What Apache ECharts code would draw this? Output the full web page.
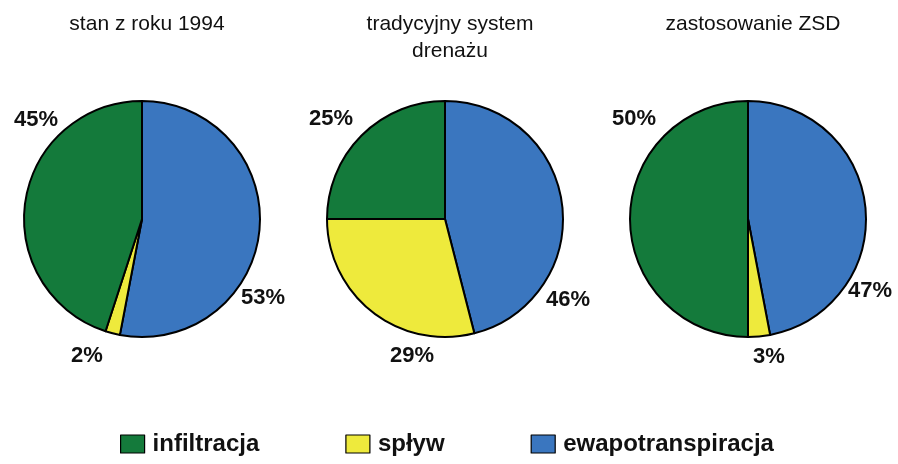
<!DOCTYPE html>
<html>
<head>
<meta charset="utf-8">
<script src="https://cdn.jsdelivr.net/npm/echarts@6/dist/echarts.min.js"></script>
<style>
* { margin: 0; padding: 0; }
#chart-container { width: 898px; height: 464px; background: #fff; }
</style>
</head>
<body>
<div id="chart-container"></div>
<script>
// kategorie (kolejność rysowania zgodnie z ruchem wskazówek zegara od góry)
const categories = ['ewapotranspiracja', 'spływ', 'infiltracja'];
const legendOrder = ['infiltracja', 'spływ', 'ewapotranspiracja'];
const pieTitles = ['stan z roku 1994', 'tradycyjny system\ndrenażu', 'zastosowanie ZSD'];
// wartości w % (ewapotranspiracja, spływ, infiltracja)
const stan1994 = [53, 2, 45];
const tradycyjny = [46, 29, 25];
const zsd = [47, 3, 50];

const colors = {
    'ewapotranspiracja': '#3a76bf',
    'spływ': '#eeea3c',
    'infiltracja': '#147a3b'
};

// układ
const centers = [[142, 219], [445, 219], [748, 219]];
const radius = 118;
// położenie etykiet (x, y) dla każdej kategorii
const labelPos = [
    [[263, 298], [87, 356], [36, 120]],
    [[568, 300], [412, 356], [331, 119]],
    [[870, 291], [769, 357], [634, 119]]
];

const dom = document.getElementById('chart-container');
const myChart = echarts.init(dom, null, { renderer: 'canvas' });

const allValues = [stan1994, tradycyjny, zsd];

const option = {
    animation: false,
    textStyle: { fontFamily: 'Liberation Sans, Arial, sans-serif' },
    title: pieTitles.map((t, i) => ({
        text: t,
        left: centers[i][0],
        top: 6,
        textAlign: 'center',
        textStyle: {
            fontSize: 21,
            fontWeight: 'normal',
            color: '#111',
            lineHeight: 27,
            fontFamily: 'Liberation Sans, Arial, sans-serif'
        }
    })),
    legend: {
        data: legendOrder,
        top: 427,
        left: 115,
        itemWidth: 24,
        itemHeight: 18,
        itemGap: 86,
        icon: 'rect',
        itemStyle: { borderColor: '#000', borderWidth: 1.2 },
        textStyle: {
            fontSize: 24,
            fontWeight: 'bold',
            color: '#111',
            padding: [0, 0, 0, 3]
        },
        selectedMode: false
    },
    series: allValues.map((vals, s) => ({
        type: 'pie',
        center: centers[s],
        radius: radius,
        startAngle: 90,
        clockwise: true,
        silent: true,
        avoidLabelOverlap: false,
        data: categories.map((c, i) => ({
            name: c,
            value: vals[i],
            itemStyle: { color: colors[c] }
        })),
        itemStyle: { borderColor: '#000', borderWidth: 2 },
        label: {
            show: true,
            position: 'inside',
            formatter: '{c}%',
            fontSize: 22,
            fontWeight: 'bold',
            color: '#111'
        },
        labelLine: { show: false },
        labelLayout: function (params) {
            const p = labelPos[s][params.dataIndex];
            return {
                x: p[0], y: p[1],
                align: 'center', verticalAlign: 'middle',
                hideOverlap: false
            };
        }
    }))
};

myChart.setOption(option);
</script>
</body>
</html>
